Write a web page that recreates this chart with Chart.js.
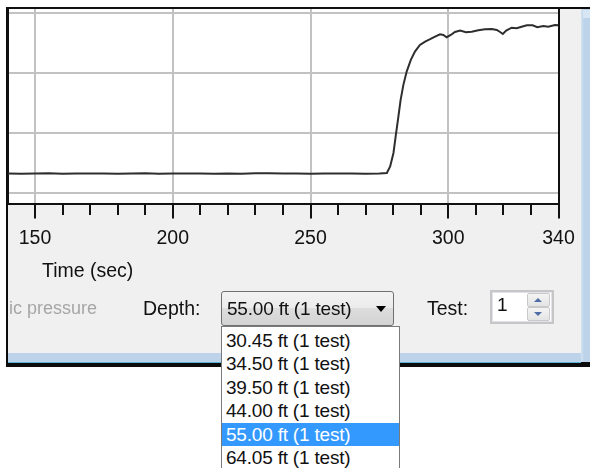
<!DOCTYPE html>
<html>
<head>
<meta charset="utf-8">
<script src="https://cdn.jsdelivr.net/npm/chart.js@4.4.1/dist/chart.umd.min.js"></script>
<style>
  html, body { margin:0; padding:0; width:590px; height:468px; overflow:hidden; background:#fff;
    font-family:"Liberation Sans", Arial, sans-serif; }
  .abs { position:absolute; }
  #win { left:6px; top:7px; width:584px; height:360px; background:#0c0c0c; }
  #gray { left:8px; top:9px; width:573px; height:344px; background:#f0f0f0; }
  #blueR { left:581px; top:9px; width:9px; height:353px; background:linear-gradient(to right,#d3e3f3,#bcd3ea 3px,#bcd3ea); }
  #blueR::before { content:""; position:absolute; left:2px; top:1px; right:0; height:8px; background:#d8e6f4; }
  #blueB { left:8px; top:353px; width:573px; height:9px; background:#bcd3ea; border-bottom:1px solid #59b4d6; }
  #chartBox { left:0; top:0; width:590px; height:260px; }
  .lbl { position:absolute; font-size:19.5px; line-height:22px; color:#111; white-space:nowrap; }
  #combo { left:221px; top:291px; width:171px; height:33px; border:1px solid #707070; border-radius:3px;
    background:linear-gradient(#f3f3f3, #ebebeb 50%, #dddddd 50%, #d3d3d3); }
  #comboText { left:5px; top:6px; font-size:19px; letter-spacing:-0.2px; }
  #comboArrow { left:154px; top:14px; width:0; height:0; border-left:5px solid transparent; border-right:5px solid transparent; border-top:6px solid #000; }
  #spin { left:490px; top:290px; width:60px; height:30px; border:2px solid #c6c6c6; background:#fff; box-shadow: inset 0 0 0 1px #e2e3ea; }
  #spinText { left:5px; top:2px; font-size:19px; }
  .spinBtn { position:absolute; left:35px; width:21px; height:12px; border:1px solid #c9c9c9; border-radius:2px;
    background:linear-gradient(#f4f4f4,#e4e4e4); }
  #spinUp { top:1px; }
  #spinDown { top:15px; }
  .triUp { position:absolute; left:6px; top:4px; width:0; height:0; border-left:4px solid transparent; border-right:4px solid transparent; border-bottom:4px solid #4d6ca8; }
  .triDown { position:absolute; left:6px; top:4px; width:0; height:0; border-left:4px solid transparent; border-right:4px solid transparent; border-top:4px solid #4d6ca8; }
  #list { left:221px; top:326px; width:177px; height:160px; border:1px solid #7a7a7a; background:#fff; padding-top:2px; }
  .item { height:23.4px; line-height:23.4px; font-size:19px; letter-spacing:-0.2px; padding-left:4px; color:#111; white-space:nowrap; }
  .item.sel { background:#3399ff; color:#fff; }
</style>
</head>
<body>
<div id="win" class="abs"></div>
<div id="gray" class="abs"></div>
<div id="blueR" class="abs"></div>
<div id="blueB" class="abs"></div>
<div id="chartBox" class="abs"><canvas id="c" width="590" height="260"></canvas></div>
<div id="xTitle" class="lbl" style="left:42px; top:259px;"></div>
<div id="hydroLbl" class="lbl" style="left:9px; top:297px; font-size:18px; color:#a6a6a6;"></div>
<div id="depthLbl" class="lbl" style="left:143px; top:297px;"></div>
<div id="combo" class="abs"><div id="comboText" class="lbl"></div><div id="comboArrow" class="abs"></div></div>
<div id="testLbl" class="lbl" style="left:427px; top:297px;"></div>
<div id="spin" class="abs">
  <div id="spinText" class="lbl"></div>
  <div id="spinUp" class="spinBtn"><div class="triUp"></div></div>
  <div id="spinDown" class="spinBtn"><div class="triDown"></div></div>
</div>
<div id="list" class="abs"></div>

<script>
// ---- data ----
const timeSec = [140, 145, 150, 155, 160, 165, 170, 175, 180, 185, 190, 195, 200, 205, 210, 215, 220, 225, 230, 235,
  240, 245, 250, 255, 260, 265, 270, 275, 277.7, 278.9, 280.1, 280.9, 281.9, 282.7, 283.7, 284.9, 286.4, 287.9,
  289.7, 291.6, 293.4, 295.2, 297.0, 298.2, 299.4, 300.9, 302.4, 304.3, 306.4, 308.5, 310.9, 313.3, 315.8, 317.6,
  318.8, 319.8, 321.0, 323.0, 324.8, 326.3, 328.5, 330.6, 332.3, 334.5, 336.3, 338.7, 340];
const pressure = [3.2, 3.15, 3.2, 3.22, 3.15, 3.2, 3.18, 3.2, 3.15, 3.2, 3.22, 3.17, 3.2, 3.18, 3.2, 3.15, 3.2, 3.17, 3.22, 3.25,
  3.18, 3.2, 3.15, 3.2, 3.18, 3.2, 3.17, 3.2, 3.28, 4.38, 6.62, 9.38, 12.72, 15.5, 18.0, 20.22, 22.17, 23.55,
  24.67, 25.22, 25.62, 26.05, 26.45, 26.33, 25.95, 26.33, 26.83, 27.05, 26.78, 26.88, 27.12, 27.28, 27.33, 27.17,
  26.83, 26.5, 27.05, 27.55, 27.45, 27.67, 27.95, 27.95, 27.62, 27.83, 27.72, 28.0, 27.95];
const xTickValues = [150, 160, 170, 180, 190, 200, 210, 220, 230, 240, 250, 260, 270, 280, 290, 300, 310, 320, 330, 340];
const xMajorLabels = [150, 200, 250, 300, 340];
const yGridValues = [0, 10, 20, 30];
const xAxisTitle = 'Time (sec)';
const hydroLabel = 'ic pressure';
const depthLabel = 'Depth:';
const testLabel = 'Test:';
const depthOptions = ['30.45 ft (1 test)', '34.50 ft (1 test)', '39.50 ft (1 test)', '44.00 ft (1 test)', '55.00 ft (1 test)', '64.05 ft (1 test)'];
const selectedDepth = '55.00 ft (1 test)';
const testNumber = '1';

// ---- UI texts ----
document.getElementById('xTitle').textContent = xAxisTitle;
document.getElementById('hydroLbl').textContent = hydroLabel;
document.getElementById('depthLbl').textContent = depthLabel;
document.getElementById('testLbl').textContent = testLabel;
document.getElementById('comboText').textContent = selectedDepth;
document.getElementById('spinText').textContent = testNumber;
const list = document.getElementById('list');
depthOptions.forEach(d => {
  const el = document.createElement('div');
  el.className = 'item' + (d === selectedDepth ? ' sel' : '');
  el.textContent = d;
  list.appendChild(el);
});

// ---- chart ----
const FONT = '"Liberation Sans", Arial, sans-serif';
const X_MIN = 140.2, X_MAX = 340, Y_MIN = -1.833, Y_MAX = 30.833;
const isMajor = c => c.tick && xMajorLabels.includes(c.tick.value);

const plotBg = {
  id: 'plotBg',
  beforeDraw(chart) {
    const {ctx, chartArea: a} = chart;
    ctx.save();
    ctx.fillStyle = '#ffffff';
    ctx.fillRect(a.left, a.top, a.right - a.left, a.bottom - a.top);
    ctx.restore();
  }
};

new Chart(document.getElementById('c'), {
  type: 'line',
  data: {
    datasets: [{
      data: timeSec.map((t, i) => ({x: t, y: pressure[i]})),
      borderColor: '#2e2e2e',
      borderWidth: 2,
      pointRadius: 0,
      tension: 0,
      fill: false
    }]
  },
  options: {
    responsive: false,
    animation: false,
    devicePixelRatio: 1,
    layout: { padding: { left: 8, top: 8, right: 31.5, bottom: 2 } },
    plugins: { legend: { display: false }, tooltip: { enabled: false } },
    scales: {
      x: {
        type: 'linear', position: 'bottom', min: X_MIN, max: X_MAX,
        afterBuildTicks: s => { s.ticks = xTickValues.map(v => ({value: v})); },
        ticks: {
          autoSkip: false, maxRotation: 0, padding: 8,
          font: { family: FONT, size: 19.5 }, color: '#111',
          callback: v => xMajorLabels.includes(v) ? String(v) : ''
        },
        grid: {
          color: c => (isMajor(c) && c.tick.value !== X_MAX) ? '#c2c2c2' : 'rgba(0,0,0,0)',
          lineWidth: 2, tickLength: 15, tickColor: '#111', tickWidth: 2,
          tickBorderDash: c => isMajor(c) ? [] : [10, 100]
        },
        border: { display: true, color: '#111', width: 2 }
      },
      xTop: {
        type: 'linear', position: 'top', min: X_MIN, max: X_MAX,
        ticks: { display: false }, grid: { display: false, drawTicks: false },
        border: { display: true, color: '#111', width: 2 }
      },
      y: {
        type: 'linear', position: 'left', min: Y_MIN, max: Y_MAX,
        afterBuildTicks: s => { s.ticks = yGridValues.map(v => ({value: v})); },
        ticks: { display: false },
        grid: { color: '#c2c2c2', lineWidth: 2, drawTicks: false },
        border: { display: true, color: '#111', width: 2 }
      },
      yRight: {
        type: 'linear', position: 'right', min: Y_MIN, max: Y_MAX,
        ticks: { display: false }, grid: { display: false, drawTicks: false },
        border: { display: true, color: '#111', width: 2 }
      }
    }
  },
  plugins: [plotBg]
});
</script>
</body>
</html>
